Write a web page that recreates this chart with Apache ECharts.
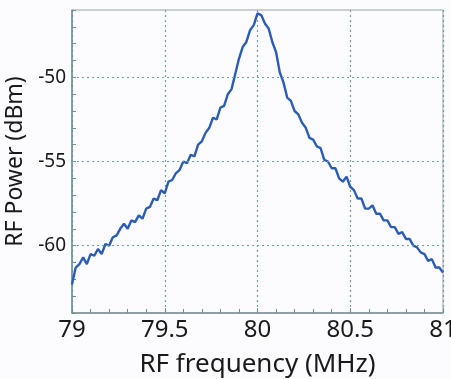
<!DOCTYPE html>
<html>
<head>
<meta charset="utf-8">
<script src="https://cdn.jsdelivr.net/npm/echarts@6/dist/echarts.min.js"></script>
<style>
  html, body { margin: 0; padding: 0; background: #fcfcfe; }
  #spectrum { width: 451px; height: 379px; }
</style>
</head>
<body>
<div id="spectrum"></div>
<script>
// RF spectrum around 80 MHz
var freq = [79.00, 79.02, 79.04, 79.06, 79.08, 79.10, 79.12, 79.14, 79.16, 79.18,
  79.20, 79.22, 79.24, 79.26, 79.28, 79.30, 79.32, 79.34, 79.36, 79.38,
  79.40, 79.42, 79.44, 79.46, 79.48, 79.50, 79.52, 79.54, 79.56, 79.58,
  79.60, 79.62, 79.64, 79.66, 79.68, 79.70, 79.72, 79.74, 79.76, 79.78,
  79.80, 79.82, 79.84, 79.86, 79.88, 79.90, 79.92, 79.94, 79.96, 79.98,
  80.00, 80.02, 80.04, 80.06, 80.08, 80.10, 80.12, 80.14, 80.16, 80.18,
  80.20, 80.22, 80.24, 80.26, 80.28, 80.30, 80.32, 80.34, 80.36, 80.38,
  80.40, 80.42, 80.44, 80.46, 80.48, 80.50, 80.52, 80.54, 80.56, 80.58,
  80.60, 80.62, 80.64, 80.66, 80.68, 80.70, 80.72, 80.74, 80.76, 80.78,
  80.80, 80.82, 80.84, 80.86, 80.88, 80.90, 80.92, 80.94, 80.96, 80.98, 81.00];
var power = [-62.3, -61.3, -61.1, -60.7, -61.1, -60.5, -60.6, -60.2, -60.5, -59.9,
  -60.0, -59.5, -59.4, -59.0, -58.7, -59.0, -58.5, -58.6, -58.2, -58.4,
  -57.8, -57.7, -57.2, -57.3, -56.7, -56.9, -56.2, -56.1, -55.7, -55.5,
  -55.0, -55.1, -54.6, -54.7, -54.0, -53.8, -53.3, -53.0, -52.4, -52.5,
  -51.8, -51.7, -51.0, -50.7, -49.8, -48.9, -48.2, -47.9, -47.2, -46.9,
  -46.2, -46.3, -46.8, -47.1, -47.9, -48.5, -49.7, -50.3, -51.2, -51.4,
  -52.0, -52.2, -52.7, -53.0, -53.6, -53.7, -54.1, -54.2, -54.9, -55.0,
  -55.4, -55.4, -56.0, -56.2, -55.9, -56.5, -56.7, -57.2, -57.2, -57.8,
  -57.8, -57.6, -58.1, -58.1, -58.5, -58.5, -58.9, -58.9, -59.3, -59.2,
  -59.6, -59.6, -60.0, -60.1, -60.4, -60.5, -60.9, -60.8, -61.3, -61.3, -61.6];
var yGrid = [-50, -55, -60];
var yLabels = ['-50', '-55', '-60'];

var gridColor = '#6f9ea8';
var fontFam = 'Noto Sans, sans-serif';

var myChart = echarts.init(document.getElementById('spectrum'));
var option = {
    backgroundColor: '#fcfcfe',
    animation: false,
    grid: {
        left: 72, right: 8, top: 10, bottom: 66,
        containLabel: false,
        outerBoundsMode: 'none',
        show: true, borderColor: '#9aa3a6', borderWidth: 1
    },
    xAxis: {
        type: 'value',
        min: 79, max: 81, interval: 0.5,
        name: 'RF frequency (MHz)',
        nameLocation: 'middle',
        nameGap: 39,
        nameTextStyle: { fontSize: 26, color: '#1a1a1a', fontFamily: fontFam },
        axisLine: { lineStyle: { color: '#7d8f94', width: 1.5 } },
        axisTick: { inside: true, length: 5, lineStyle: { color: '#6f8f96' } },
        minorTick: { show: true, splitNumber: 5, length: 4, lineStyle: { color: '#6f8f96' } },
        axisLabel: {
            fontSize: 24, color: '#1a1a1a', fontFamily: fontFam, margin: 5,
            formatter: function (v) { return String(v); }
        },
        splitLine: { show: true, lineStyle: { type: [2, 3], color: gridColor, width: 1.2 } }
    },
    yAxis: {
        type: 'value',
        min: -64, max: -46, interval: 1,
        name: 'RF Power (dBm)',
        nameLocation: 'middle',
        nameGap: 38,
        nameRotate: 90,
        nameTextStyle: { fontSize: 23, color: '#1a1a1a', fontFamily: fontFam },
        axisLine: { show: true, lineStyle: { color: '#6f8f96', width: 1.5 } },
        axisTick: { show: true, inside: true, length: 4, lineStyle: { color: '#6f8f96' } },
        axisLabel: {
            fontSize: 19, color: '#1a1a1a', fontFamily: fontFam, margin: 6,
            formatter: function (v) {
                var i = yGrid.indexOf(v);
                return i >= 0 ? yLabels[i] : '';
            }
        },
        splitLine: { show: false }
    },
    series: [{
        type: 'line',
        data: freq.map(function (f, i) { return [f, power[i]]; }),
        showSymbol: false,
        lineStyle: { color: '#2b5cb6', width: 2.4 },
        markLine: {
            silent: true,
            symbol: 'none',
            label: { show: false },
            lineStyle: { type: [2, 3], color: gridColor, width: 1.2 },
            data: yGrid.map(function (v) { return { yAxis: v }; })
        },
        z: 3
    }]
};
myChart.setOption(option);
</script>
</body>
</html>
